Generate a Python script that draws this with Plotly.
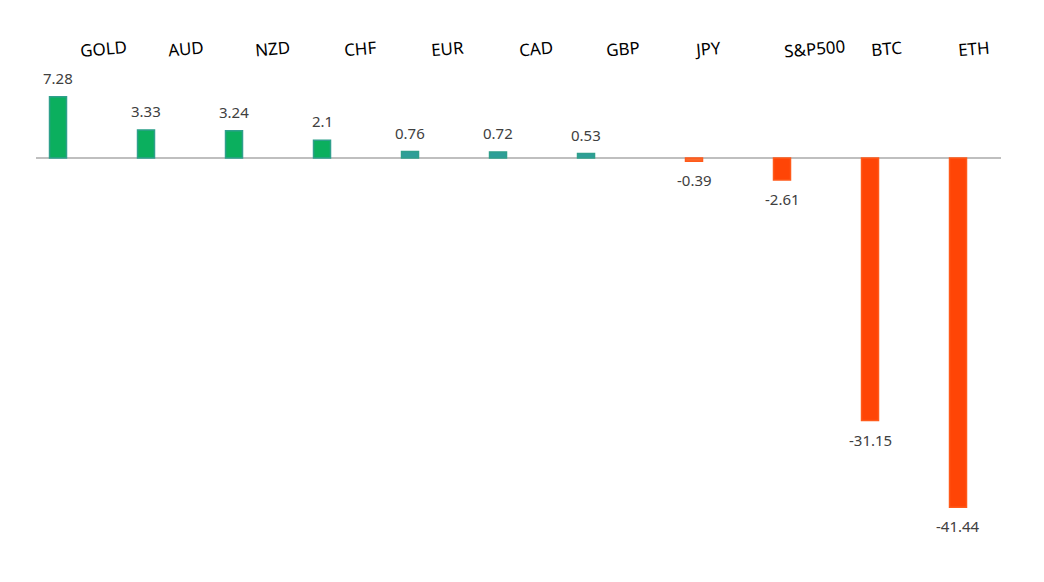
import plotly.graph_objects as go

categories = ["GOLD", "AUD", "NZD", "CHF", "EUR", "CAD", "GBP", "JPY", "S&P500", "BTC", "ETH"]
values = [7.28, 3.33, 3.24, 2.1, 0.76, 0.72, 0.53, -0.39, -2.61, -31.15, -41.44]

# layout tweaks for the category headers (pixel offsets from each category centre)
header_xshift = [35, 30, 28, 28, 27, 28, 27, 23, 42, 26, 26]

gains = [v if v >= 0 else None for v in values]
losses = [v if v < 0 else None for v in values]

BAR_W = 0.193
SLOT = 0.227  # distance between the two series' bar centres

def gain_color(v):
    if v is None:
        return "#000000"
    return "#0BAF5E" if v >= 2 else "#2E9E98"

def loss_color(v):
    if v is None:
        return "#000000"
    return "#FF4506" if v < -1 else "#F96B2E"

fig = go.Figure()
fig.add_trace(go.Bar(
    x=categories, y=gains, width=BAR_W, offset=-SLOT / 2 - BAR_W / 2,
    marker=dict(color=[gain_color(v) for v in gains],
                line=dict(color="#2FA08C", width=1.5)),
    hoverinfo="x+y", name="gain",
))
fig.add_trace(go.Bar(
    x=categories, y=losses, width=BAR_W, offset=SLOT / 2 - BAR_W / 2,
    marker=dict(color=[loss_color(v) for v in losses],
                line=dict(color="#FF5A1A", width=1.5)),
    hoverinfo="x+y", name="loss",
))

annotations = []
for i, (c, v) in enumerate(zip(categories, values)):
    xpos = i - SLOT / 2 if v >= 0 else i + SLOT / 2
    annotations.append(dict(
        x=xpos, y=v, xref="x", yref="y", text=f"{v:g}", showarrow=False,
        yshift=19 if v >= 0 else -19, yanchor="middle", xanchor="center",
        font=dict(family="Noto Sans", size=15, color="#404040"),
    ))
for i, (c, dx) in enumerate(zip(categories, header_xshift)):
    annotations.append(dict(
        x=i, y=0.948, xref="x", yref="paper", text=c, showarrow=False,
        xshift=dx, xanchor="center", yanchor="middle", textangle=-5,
        font=dict(family="Noto Sans", size=17, color="#000000"),
    ))

fig.update_layout(
    width=1044, height=582,
    margin=dict(l=28, r=51, t=12, b=30),
    paper_bgcolor="white", plot_bgcolor="white",
    showlegend=False,
    barmode="overlay",
    annotations=annotations,
    xaxis=dict(type="category", range=[-0.3636, 10.602], showticklabels=False,
               showgrid=False, zeroline=False, showline=False, ticks=""),
    yaxis=dict(range=[-47.69, 16.37], showticklabels=False, showgrid=False,
               zeroline=True, zerolinecolor="#BFBFBF", zerolinewidth=2,
               showline=False, ticks=""),
)

fig.write_html("out.html")
